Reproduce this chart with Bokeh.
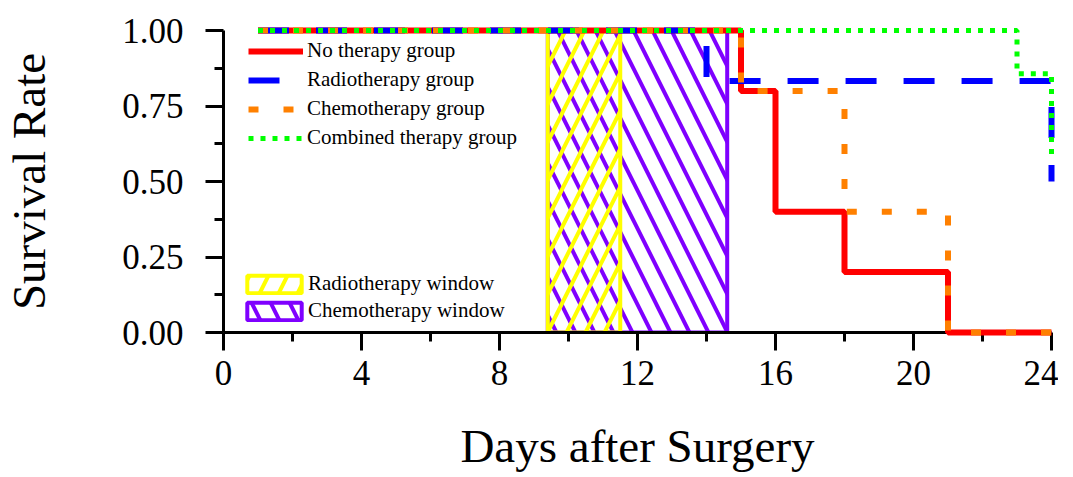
from bokeh.plotting import figure
from bokeh.models import Range1d, FixedTicker, PrintfTickFormatter, Legend, LegendItem
from bokeh.embed import file_html
from bokeh.resources import INLINE

# ---- data ----
no_days = [1, 15, 16, 18, 21, 24]
no_surv = [1.0, 0.8, 0.4, 0.2, 0.0, 0.0]
radio_days = [1, 14, 24]
radio_surv = [1.0, 0.833, 0.5]
chemo_days = [1, 15, 18, 21, 24]
chemo_surv = [1.0, 0.8, 0.4, 0.0, 0.0]
comb_days = [1, 23, 24]
comb_surv = [1.0, 0.857, 0.571]

radio_window = [9.4, 11.5]
chemo_window = [9.4, 14.6]

series_labels = ["No therapy group", "Radiotherapy group", "Chemotherapy group", "Combined therapy group"]
window_labels = ["Radiotherapy window", "Chemotherapy window"]

x_ticks = [0, 4, 8, 12, 16, 20, 24]
x_minor = [2, 6, 10, 14, 18, 22]
y_ticks = [0.0, 0.25, 0.5, 0.75, 1.0]
y_minor = [0.125, 0.375, 0.625, 0.875]

# ---- styles ----
RED = "#FF0000"
BLUE = "#0000FF"
ORANGE = "#FF8000"
GREEN = "#00FF00"
YELLOW = "#FFFF00"
PURPLE = "#7F00FF"
FONT = "Liberation Serif"

p = figure(
    frame_width=828, frame_height=302,
    min_border_left=222, min_border_right=7, min_border_top=30, min_border_bottom=40,
    x_range=Range1d(0, 24), y_range=Range1d(0, 1),
    output_backend="svg", toolbar_location=None,
)
p.outline_line_color = None
p.xgrid.grid_line_color = None
p.ygrid.grid_line_color = None

# therapy windows
r_chemo_win = p.quad(left=[chemo_window[0]], right=[chemo_window[1]], bottom=[0], top=[1],
                     fill_color=None, line_color=PURPLE, line_width=4,
                     hatch_pattern="\\", hatch_color=PURPLE, hatch_weight=4, hatch_scale=38)
r_radio_win = p.quad(left=[radio_window[0]], right=[radio_window[1]], bottom=[0], top=[1],
                     fill_color=None, line_color=YELLOW, line_width=4,
                     hatch_pattern="/", hatch_color=YELLOW, hatch_weight=4, hatch_scale=38)

# survival curves
r_no = p.step(no_days, no_surv, mode="after", line_color=RED, line_width=6)
r_radio = p.step(radio_days, radio_surv, mode="after", line_color=BLUE, line_width=6,
                 line_dash="31 27")
r_chemo = p.step(chemo_days, chemo_surv, mode="after", line_color=ORANGE, line_width=6,
                 line_dash="10 25")
r_comb = p.step(comb_days, comb_surv, mode="after", line_color=GREEN, line_width=5,
                line_dash="5 7")
for r in (r_no, r_radio, r_chemo, r_comb):
    r.level = "overlay"

# axes
for ax in (p.xaxis[0], p.yaxis[0]):
    ax.axis_line_width = 3
    ax.axis_line_color = "black"
    ax.major_tick_line_width = 3
    ax.minor_tick_line_width = 3
    ax.major_tick_in = 0
    ax.major_tick_out = 18
    ax.minor_tick_in = 0
    ax.minor_tick_out = 9
    ax.major_label_text_font = FONT
    ax.major_label_text_font_size = "35px"
    ax.major_label_text_color = "black"
    ax.axis_label_text_font = FONT
    ax.axis_label_text_font_size = "47px"
    ax.axis_label_text_font_style = "normal"
    ax.axis_label_text_color = "black"

p.xaxis[0].ticker = FixedTicker(ticks=x_ticks, minor_ticks=x_minor)
p.yaxis[0].ticker = FixedTicker(ticks=y_ticks, minor_ticks=y_minor)
p.yaxis[0].formatter = PrintfTickFormatter(format="%.2f")
p.xaxis[0].axis_label = "Days after Surgery"
p.yaxis[0].axis_label = "Survival Rate"
p.xaxis[0].major_label_standoff = 10
p.xaxis[0].axis_label_standoff = 32
p.yaxis[0].major_label_standoff = 22
p.yaxis[0].axis_label_standoff = 64

# legends
leg1 = Legend(items=[LegendItem(label=series_labels[0], renderers=[r_no]),
                     LegendItem(label=series_labels[1], renderers=[r_radio]),
                     LegendItem(label=series_labels[2], renderers=[r_chemo]),
                     LegendItem(label=series_labels[3], renderers=[r_comb])],
              location=(25, 182), orientation="vertical",
              glyph_width=55, glyph_height=24, label_height=24, label_standoff=4,
              spacing=4, padding=0, margin=0,
              label_text_font=FONT, label_text_font_size="21px", label_text_color="black",
              border_line_alpha=0, background_fill_alpha=0)
leg2 = Legend(items=[LegendItem(label=window_labels[0], renderers=[r_radio_win]),
                     LegendItem(label=window_labels[1], renderers=[r_chemo_win])],
              location=(17, 9), orientation="vertical",
              glyph_width=68, glyph_height=22, label_height=22, label_standoff=0,
              spacing=2, padding=0, margin=0,
              label_text_font=FONT, label_text_font_size="21px", label_text_color="black",
              border_line_alpha=0, background_fill_alpha=0)
p.add_layout(leg1)
p.add_layout(leg2)

open("out.html", "w").write(file_html(p, INLINE))
